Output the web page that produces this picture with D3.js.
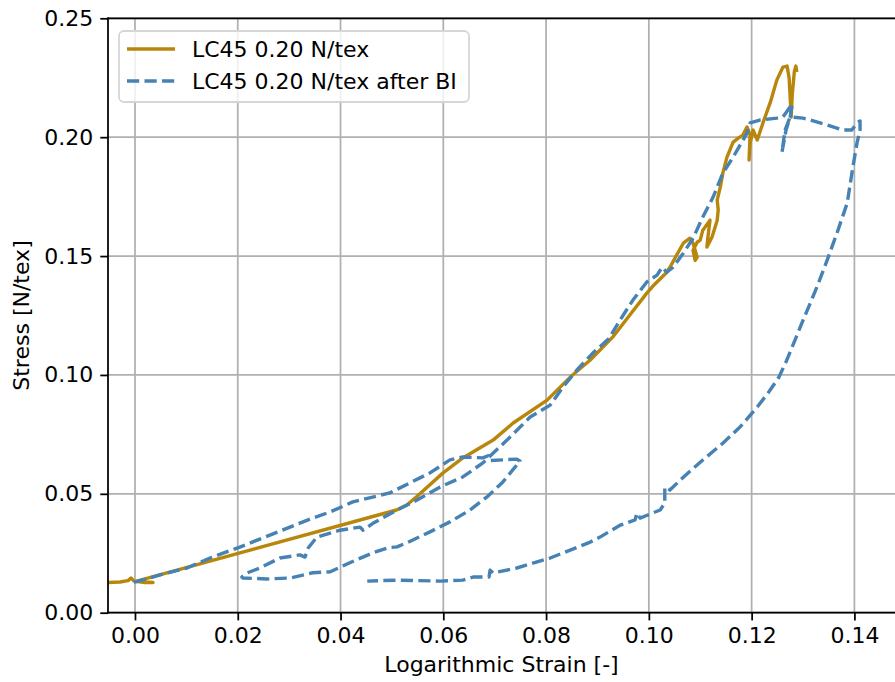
<!DOCTYPE html>
<html>
<head>
<meta charset="utf-8">
<script src="https://cdn.jsdelivr.net/npm/d3@7"></script>
<style>
  body { margin: 0; background: #fff; }
  text { font-family: "DejaVu Sans", sans-serif; }
</style>
</head>
<body>
<svg id="chart" width="895" height="682"></svg>
<script>
// series labels
var seriesNames = ["LC45 0.20 N/tex", "LC45 0.20 N/tex after BI"];

// LC45 0.20 N/tex (solid)
var goldStrain = [-0.00526, -0.00292, -0.00136, -0.00078, -0.00019, 0.00195, 0.00350, 0.00195, 0.0,
  0.0509, 0.0529, 0.0548, 0.0599, 0.0638, 0.0697, 0.0736, 0.0802, 0.0847, 0.0886, 0.0930,
  0.0963, 0.0996, 0.1008, 0.1035, 0.1041, 0.1067, 0.1080, 0.1086, 0.1094, 0.1090, 0.1086,
  0.1094, 0.1100, 0.1105, 0.1119, 0.1115, 0.1113, 0.1123, 0.1133, 0.1135, 0.1133, 0.1139,
  0.1144, 0.1152, 0.1164, 0.1174, 0.1183, 0.1191, 0.1197, 0.1195, 0.1197, 0.1203, 0.1211,
  0.1222, 0.1236, 0.1249, 0.1261, 0.1269, 0.1273, 0.1277, 0.1279, 0.1283, 0.1286, 0.1288];
var goldStress = [0.0127, 0.0129, 0.0135, 0.0146, 0.0133, 0.0127, 0.0127, 0.0129, 0.0131,
  0.0432, 0.0453, 0.0488, 0.0587, 0.0651, 0.0726, 0.0798, 0.0894, 0.0991, 0.1063, 0.1160,
  0.1252, 0.1344, 0.1374, 0.1432, 0.1453, 0.1554, 0.1575, 0.1554, 0.1495, 0.1482, 0.1524,
  0.1558, 0.1567, 0.1609, 0.1651, 0.1580, 0.1538, 0.1580, 0.1651, 0.1693, 0.1735, 0.1790,
  0.1849, 0.1916, 0.1979, 0.1996, 0.2009, 0.2043, 0.2009, 0.1904, 0.1975, 0.2030, 0.1988,
  0.2060, 0.2144, 0.2240, 0.2295, 0.2299, 0.2249, 0.2085, 0.2177, 0.2274, 0.2299, 0.2274];

// LC45 0.20 N/tex after BI (dashed)
var blueStrain = [-0.0002, 0.0029, 0.0062, 0.0101, 0.0146, 0.0204, 0.0346, 0.0380, 0.0424,
  0.0496, 0.0574, 0.0613, 0.0638, 0.0677, 0.0687, 0.0691, 0.0743, 0.0749,
  0.0740, 0.0716, 0.0685, 0.0652, 0.0613, 0.0574, 0.0529, 0.0510, 0.0492, 0.0463, 0.0418,
  0.0380, 0.0346, 0.0302, 0.0257, 0.0210, 0.0208,
  0.0218, 0.0243, 0.0282, 0.0321, 0.0331, 0.0337, 0.0354, 0.0399, 0.0438, 0.0444, 0.0463,
  0.0510, 0.0549, 0.0594, 0.0638, 0.0677, 0.0724, 0.0769, 0.0808, 0.0833, 0.0860, 0.0891,
  0.0924, 0.0930, 0.0944, 0.0969, 0.0996, 0.1016, 0.1026, 0.1035, 0.1047, 0.1067, 0.1086,
  0.1105, 0.1125, 0.1144, 0.1164, 0.1191, 0.1197, 0.1216, 0.1249, 0.1261,
  0.1279, 0.1275, 0.1267, 0.1259, 0.1265, 0.1275,
  0.1300, 0.1314, 0.1347, 0.1378, 0.1395, 0.1405, 0.1411,
  0.1411, 0.1405, 0.1397, 0.1386, 0.1366, 0.1347, 0.1327, 0.1302, 0.1285, 0.1268, 0.1253,
  0.1234, 0.1211, 0.1177, 0.1144, 0.1105, 0.1067, 0.1041, 0.1031, 0.1031, 0.1022, 0.0983,
  0.0977, 0.0973, 0.0944, 0.0905, 0.0886, 0.0808, 0.0743, 0.0697, 0.0691, 0.0689, 0.0658,
  0.0638, 0.0594, 0.0510, 0.0452];
var blueStress = [0.0129, 0.0146, 0.0167, 0.0188, 0.0230, 0.0276, 0.0398, 0.0424, 0.0466,
  0.0504, 0.0588, 0.0643, 0.0655, 0.0651, 0.0660, 0.0640, 0.0646, 0.0638,
  0.0613, 0.0550, 0.0487, 0.0432, 0.0382, 0.0340, 0.0294, 0.0277, 0.0273, 0.0252, 0.0210,
  0.0172, 0.0168, 0.0146, 0.0142, 0.0146, 0.0150,
  0.0167, 0.0188, 0.0230, 0.0243, 0.0234, 0.0272, 0.0318, 0.0347, 0.0360, 0.0347, 0.0376,
  0.0432, 0.0474, 0.0529, 0.0571, 0.0630, 0.0726, 0.0823, 0.0873, 0.0949, 0.1021, 0.1092,
  0.1156, 0.1181, 0.1231, 0.1315, 0.1391, 0.1420, 0.1453, 0.1432, 0.1453, 0.1512, 0.1575,
  0.1664, 0.1748, 0.1849, 0.1916, 0.2017, 0.2060, 0.2072, 0.2080, 0.2085,
  0.2140, 0.2085, 0.2030, 0.1937, 0.2030, 0.2085,
  0.2080, 0.2072, 0.2051, 0.2030, 0.2030, 0.2060, 0.2068,
  0.2030, 0.1975, 0.1874, 0.1723, 0.1596, 0.1483, 0.1369, 0.1240, 0.1150, 0.1060, 0.0990,
  0.0930, 0.0865, 0.0780, 0.0713, 0.0642, 0.0570, 0.0516, 0.0528, 0.0461, 0.0432, 0.0398,
  0.0419, 0.0390, 0.0368, 0.0318, 0.0297, 0.0230, 0.0188, 0.0167, 0.0179, 0.0150, 0.0150,
  0.0137, 0.0133, 0.0137, 0.0133];

var xTicks = [0.00, 0.02, 0.04, 0.06, 0.08, 0.10, 0.12, 0.14];
var yTicks = [0.00, 0.05, 0.10, 0.15, 0.20, 0.25];

// plot box (pixels)
var pL = 108, pR = 895, pT = 18.3, pB = 612.7;
var fontPx = 22, tickLen = 7.7, lw = 1.76;
var gold = "#b8860b", blue = "#4682b4";

var svg = d3.select("#chart");

var x = d3.scaleLinear().domain([-0.00525, 0.1479]).range([pL, pR]);
var y = d3.scaleLinear().domain([0, 0.25]).range([pB, pT]);

svg.append("clipPath").attr("id", "clip")
  .append("rect").attr("x", pL).attr("y", pT)
  .attr("width", pR - pL).attr("height", pB - pT);

// grid
var grid = svg.append("g");
grid.selectAll(".gx").data(xTicks).enter().append("line")
  .attr("x1", d => x(d)).attr("x2", d => x(d))
  .attr("y1", pT).attr("y2", pB)
  .attr("stroke", "#b0b0b0").attr("stroke-width", lw);
grid.selectAll(".gy").data(yTicks).enter().append("line")
  .attr("x1", pL).attr("x2", pR)
  .attr("y1", d => y(d)).attr("y2", d => y(d))
  .attr("stroke", "#b0b0b0").attr("stroke-width", lw);

// curves
var plot = svg.append("g").attr("clip-path", "url(#clip)");
var line = d3.line().x(d => x(d[0])).y(d => y(d[1]));

var goldPts = goldStrain.map((s, i) => [s, goldStress[i]]);
var bluePts = blueStrain.map((s, i) => [s, blueStress[i]]);

plot.append("path").datum(goldPts)
  .attr("d", line).attr("fill", "none")
  .attr("stroke", gold).attr("stroke-width", 3.4)
  .attr("stroke-linejoin", "round").attr("stroke-linecap", "butt");

plot.append("path").datum(bluePts)
  .attr("d", line).attr("fill", "none")
  .attr("stroke", blue).attr("stroke-width", 3.4)
  .attr("stroke-dasharray", "12.2,5.3")
  .attr("stroke-linejoin", "round");

// axes
var xAxis = d3.axisBottom(x).tickValues(xTicks).tickFormat(d3.format(".2f"))
  .tickSizeOuter(0).tickSize(tickLen).tickPadding(7);
var yAxis = d3.axisLeft(y).tickValues(yTicks).tickFormat(d3.format(".2f"))
  .tickSizeOuter(0).tickSize(tickLen).tickPadding(7);

var gx = svg.append("g").attr("transform", "translate(0," + pB + ")").call(xAxis);
var gy = svg.append("g").attr("transform", "translate(" + pL + ",0)").call(yAxis);
[gx, gy].forEach(g => {
  g.select(".domain").remove();
  g.selectAll(".tick line").attr("stroke", "#000").attr("stroke-width", lw);
  g.selectAll(".tick text").attr("fill", "#000")
    .style("font-size", fontPx + "px").style("font-family", "DejaVu Sans");
});

// spines
svg.append("line").attr("x1", pL).attr("x2", pL).attr("y1", pT).attr("y2", pB)
  .attr("stroke", "#000").attr("stroke-width", lw).attr("stroke-linecap", "square");
svg.append("line").attr("x1", pL).attr("x2", pR).attr("y1", pB).attr("y2", pB)
  .attr("stroke", "#000").attr("stroke-width", lw).attr("stroke-linecap", "square");
svg.append("line").attr("x1", pL).attr("x2", pR).attr("y1", pT).attr("y2", pT)
  .attr("stroke", "#000").attr("stroke-width", lw).attr("stroke-linecap", "square");

// axis labels
svg.append("text").attr("x", (pL + pR) / 2).attr("y", 672)
  .attr("text-anchor", "middle").style("font-size", fontPx + "px")
  .text("Logarithmic Strain [-]");
svg.append("text")
  .attr("transform", "translate(29," + ((pT + pB) / 2) + ") rotate(-90)")
  .attr("text-anchor", "middle").style("font-size", fontPx + "px")
  .text("Stress [N/tex]");

// legend
var lg = svg.append("g");
lg.append("rect").attr("x", 119).attr("y", 31).attr("width", 350).attr("height", 71)
  .attr("rx", 5).attr("fill", "#fff").attr("fill-opacity", 0.8)
  .attr("stroke", "#d6d6d6").attr("stroke-width", lw);
var rows = [{c: gold, dash: null}, {c: blue, dash: "12.2,5.3"}];
rows.forEach((r, i) => {
  var cy = 49 + i * 32;
  lg.append("line").attr("x1", 127).attr("x2", 175).attr("y1", cy).attr("y2", cy)
    .attr("stroke", r.c).attr("stroke-width", 3.4)
    .attr("stroke-dasharray", r.dash);
  lg.append("text").attr("x", 192).attr("y", cy + 7.5)
    .style("font-size", fontPx + "px").text(seriesNames[i]);
});
</script>
</body>
</html>
